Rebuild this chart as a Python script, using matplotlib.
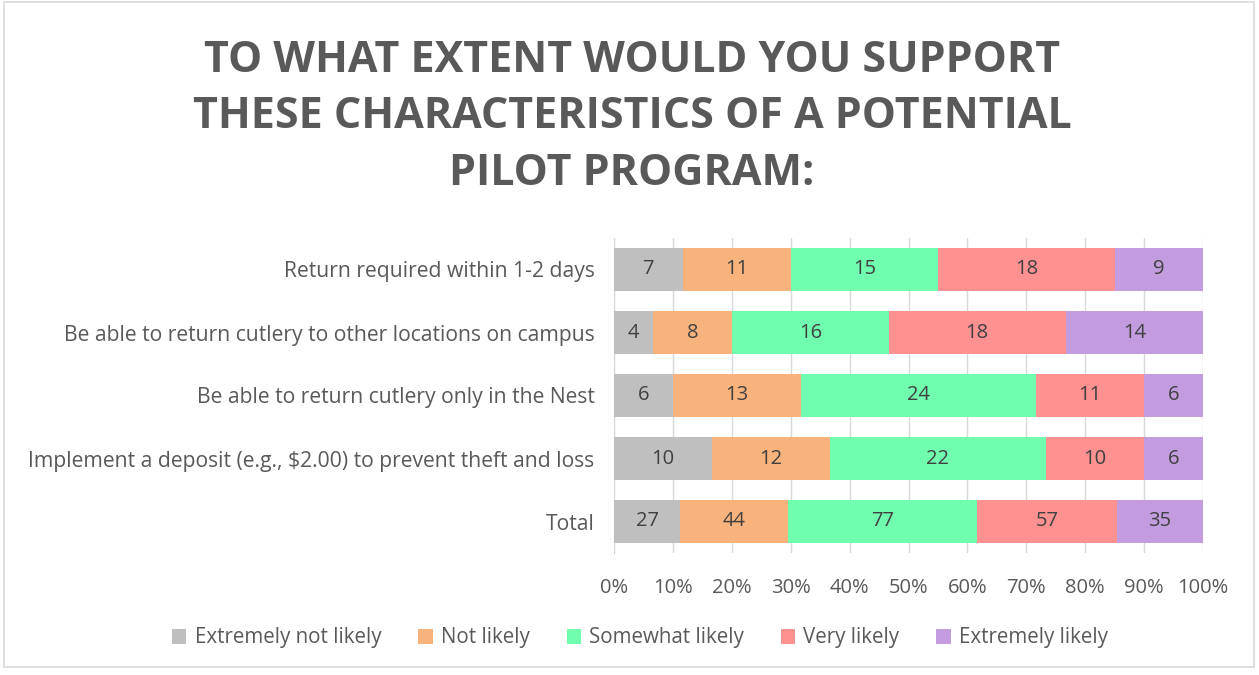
import matplotlib
matplotlib.use("Agg")
import matplotlib.pyplot as plt
import numpy as np
from matplotlib.patches import Rectangle

categories = [
    "Return required within 1-2 days",
    "Be able to return cutlery to other locations on campus",
    "Be able to return cutlery only in the Nest",
    "Implement a deposit (e.g., $2.00) to prevent theft and loss",
    "Total",
]
series_names = ["Extremely not likely", "Not likely", "Somewhat likely",
                "Very likely", "Extremely likely"]
extremely_not_likely = [7, 4, 6, 10, 27]
not_likely = [11, 8, 13, 12, 44]
somewhat_likely = [15, 16, 24, 22, 77]
very_likely = [18, 18, 11, 10, 57]
extremely_likely = [9, 14, 6, 6, 35]
tick_labels = ["0%", "10%", "20%", "30%", "40%", "50%", "60%", "70%", "80%", "90%", "100%"]

colors = ["#BFBFBF", "#F8B27C", "#70FDB0", "#FF9191", "#C39CE0"]

plt.rcParams['font.family'] = ['Open Sans', 'DejaVu Sans']

fig = plt.figure(figsize=(12.59, 6.75), dpi=100)
fig.patches.append(Rectangle((4/1259, 8/675), 1250/1259, 665/675, transform=fig.transFigure,
                             fill=False, edgecolor="#D9D9D9", linewidth=1.2))

ax = fig.add_axes([614/1259, 1 - 553/675, (1203 - 614)/1259, (553 - 238)/675])

data = np.array([extremely_not_likely, not_likely, somewhat_likely, very_likely, extremely_likely], dtype=float)
totals = data.sum(axis=0)
pct = data / totals

y = np.arange(len(categories))
left = np.zeros(len(categories))
for i, name in enumerate(series_names):
    bars = ax.barh(y, pct[i], left=left, height=0.68, color=colors[i], label=name, zorder=2)
    for j, b in enumerate(bars):
        ax.text(left[j] + pct[i][j] / 2, y[j], f"{int(data[i][j])}", ha="center", va="center",
                fontsize=14.5, color="#404040", zorder=3)
    left += pct[i]

ax.set_ylim(len(categories) - 0.5, -0.5)
ax.set_xlim(0, 1)
ax.set_xticks(np.linspace(0, 1, 11))
ax.set_xticklabels(tick_labels, fontsize=14.5, color="#595959")
ax.set_yticks(y)
ax.set_yticklabels(categories, fontsize=15.2, color="#595959")
ax.tick_params(axis="both", length=0)
ax.tick_params(axis="y", pad=14)
ax.tick_params(axis="x", pad=18)
ax.grid(axis="x", color="#D9D9D9", linewidth=1, zorder=0)
for s in ["top", "right", "bottom"]:
    ax.spines[s].set_visible(False)
ax.spines["left"].set_color("#BFBFBF")
ax.spines["left"].set_zorder(1)

fig.text(632/1259, 1 - 117/675,
         "TO WHAT EXTENT WOULD YOU SUPPORT\nTHESE CHARACTERISTICS OF A POTENTIAL\nPILOT PROGRAM:",
         ha="center", va="center", fontsize=31, fontweight="bold", color="#595959",
         linespacing=1.42)

handles, labels = ax.get_legend_handles_labels()
leg = fig.legend(handles, labels, loc="center", bbox_to_anchor=(640/1259, 1 - 638/675), ncol=5,
                 frameon=False, fontsize=14.8, handlelength=0.7, handleheight=0.7,
                 handletextpad=0.4, columnspacing=1.8)
for t in leg.get_texts():
    t.set_color("#595959")

fig.savefig("out.png", dpi=100)
